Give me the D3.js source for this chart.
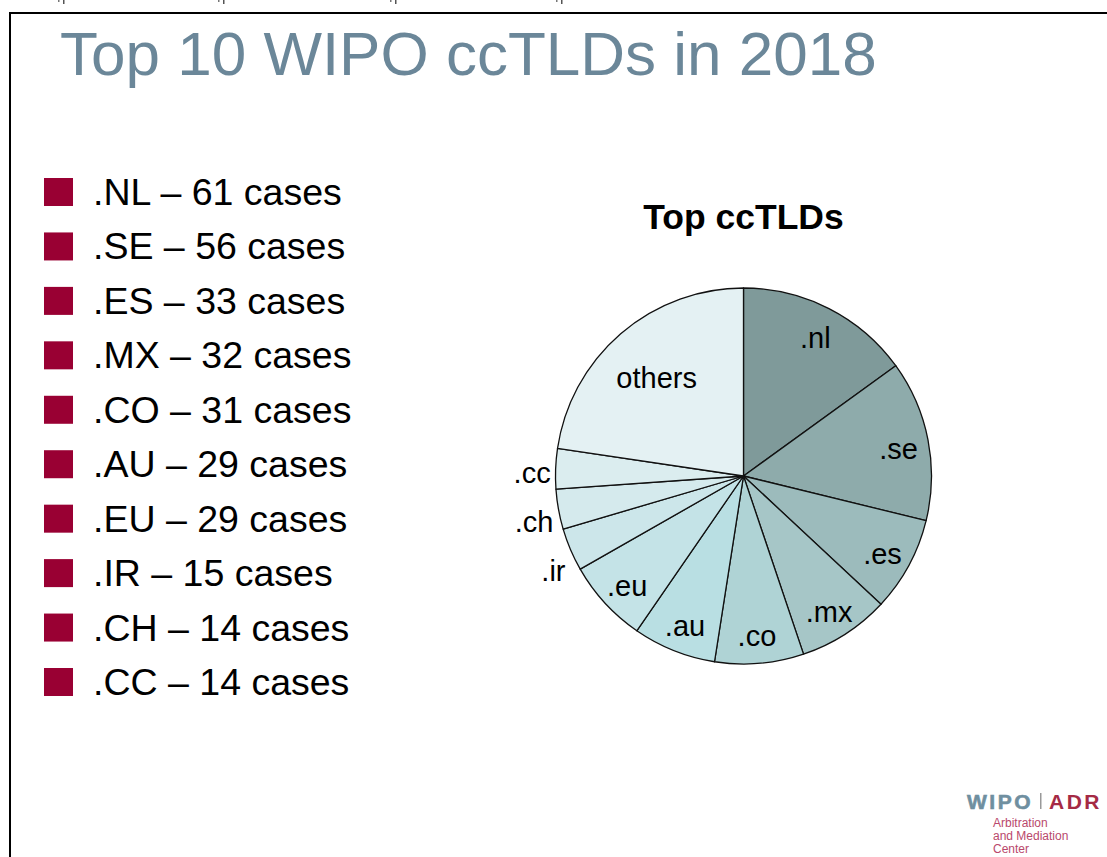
<!DOCTYPE html>
<html>
<head>
<meta charset="utf-8">
<script src="https://cdn.jsdelivr.net/npm/d3@7"></script>
<style>
  body { margin: 0; background: #fff; }
  svg { display: block; font-family: "Liberation Sans", Arial, sans-serif; }
</style>
</head>
<body>
<div id="chart"></div>
<script>
// data
const legendLabels = [".NL", ".SE", ".ES", ".MX", ".CO", ".AU", ".EU", ".IR", ".CH", ".CC"];
const caseCounts = [61, 56, 33, 32, 31, 29, 29, 15, 14, 14];
const sliceLabels = [".nl", ".se", ".es", ".mx", ".co", ".au", ".eu", ".ir", ".ch", ".cc", "others"];
const sliceValues = [61, 56, 33, 32, 31, 29, 29, 15, 14, 14, 92];
const sliceColors = ["#7f9a9a", "#8eabab", "#9cbbbc", "#a6c6c7", "#afd3d5", "#b9dfe3",
                     "#c4e3e7", "#cce6ea", "#d5eaed", "#dbedef", "#e4f1f3"];

const W = 1107, H = 857;
const pieCenter = {x: 743.5, y: 476};
const radius = 188;

const svg = d3.select("#chart").append("svg")
    .attr("width", W)
    .attr("height", H);

// slide frame (cut at the right and bottom)
svg.append("path")
    .attr("d", `M10,${H} V13 H${W}`)
    .attr("fill", "none")
    .attr("stroke", "#000")
    .attr("stroke-width", 2);

// little marks left over at the very top
[58, 218, 390, 556].forEach(x => {
    svg.append("rect").attr("x", x).attr("y", 0).attr("width", 1.5).attr("height", 2).attr("fill", "#777");
    svg.append("rect").attr("x", x + 5).attr("y", 0).attr("width", 1.5).attr("height", 4).attr("fill", "#555");
});

// title
svg.append("text")
    .attr("x", 60)
    .attr("y", 75)
    .attr("font-size", 62)
    .attr("fill", "#6b8799")
    .text("Top 10 WIPO ccTLDs in 2018");

// legend list
const rowY = d3.scalePoint()
    .domain(legendLabels)
    .range([192, 682]);

const rows = svg.append("g").selectAll("g")
    .data(legendLabels)
    .enter()
    .append("g")
    .attr("transform", d => `translate(0, ${rowY(d)})`);

rows.append("rect")
    .attr("x", 44)
    .attr("y", -14)
    .attr("width", 29)
    .attr("height", 28)
    .attr("fill", "#990033");

rows.append("text")
    .attr("x", 93)
    .attr("y", 13)
    .attr("font-size", 37.5)
    .attr("fill", "#000")
    .text((d, i) => `${d} \u2013 ${caseCounts[i]} cases`);

// pie title
svg.append("text")
    .attr("x", pieCenter.x)
    .attr("y", 229)
    .attr("text-anchor", "middle")
    .attr("font-size", 35.5)
    .attr("font-weight", "bold")
    .attr("fill", "#000")
    .text("Top ccTLDs");

const pie = d3.pie().sort(null).value(d => d);
const arcs = pie(sliceValues);

const arc = d3.arc().innerRadius(0).outerRadius(radius);
const labelArc = d3.arc().innerRadius(158).outerRadius(158);
const bigLabelArc = d3.arc().innerRadius(133).outerRadius(133);

const g = svg.append("g")
    .attr("transform", `translate(${pieCenter.x}, ${pieCenter.y})`);

g.selectAll("path")
    .data(arcs)
    .enter()
    .append("path")
    .attr("d", arc)
    .attr("fill", (d, i) => sliceColors[i])
    .attr("stroke", "#111")
    .attr("stroke-width", 1.3)
    .attr("stroke-linejoin", "round");

// labels: big slices inside, small ones just outside the rim
const isSmall = d => d.value < 20;
const inside = d => (d.value > 80 ? bigLabelArc : labelArc).centroid(d);

g.selectAll("text")
    .data(arcs)
    .enter()
    .append("text")
    .attr("font-size", 29)
    .attr("fill", "#000")
    .attr("dy", "0.38em")
    .attr("text-anchor", d => isSmall(d) ? "end" : "middle")
    .attr("x", d => {
        if (!isSmall(d)) return inside(d)[0];
        const a = (d.startAngle + d.endAngle) / 2;
        return radius * Math.sin(a) - 5;
    })
    .attr("y", d => {
        if (!isSmall(d)) return inside(d)[1] + 2;
        const a = (d.startAngle + d.endAngle) / 2;
        return -radius * Math.cos(a) + 5 - 39 * Math.cos(a);
    })
    .text((d, i) => sliceLabels[i]);

// WIPO | ADR mark, bottom right
const logo = svg.append("g");
logo.append("text")
    .attr("x", 967).attr("y", 809)
    .attr("font-size", 21).attr("font-weight", "bold")
    .attr("letter-spacing", 2.5)
    .attr("stroke", "#6f8fa0").attr("stroke-width", 0.6)
    .attr("fill", "#6f8fa0")
    .text("WIPO");
logo.append("rect")
    .attr("x", 1040).attr("y", 793).attr("width", 1.5).attr("height", 16)
    .attr("fill", "#999");
logo.append("text")
    .attr("x", 1049).attr("y", 809)
    .attr("font-size", 21).attr("font-weight", "bold")
    .attr("letter-spacing", 2.5)
    .attr("fill", "#a52a45")
    .text("ADR");
["Arbitration", "and Mediation", "Center"].forEach((t, i) => {
    logo.append("text")
        .attr("x", 993).attr("y", 827 + i * 13)
        .attr("font-size", 12)
        .attr("fill", "#b9486c")
        .text(t);
});
</script>
</body>
</html>
